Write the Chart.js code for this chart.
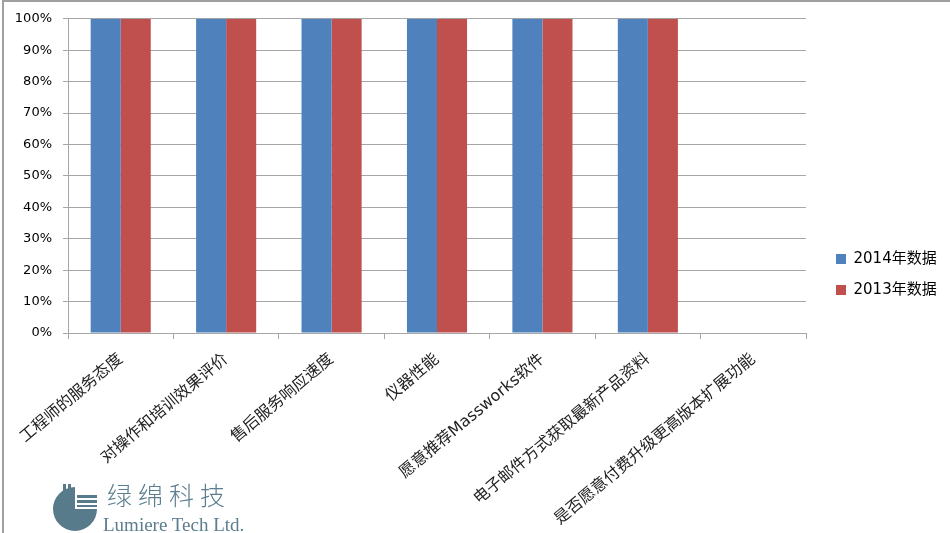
<!DOCTYPE html>
<html>
<head>
<meta charset="utf-8">
<script src="https://cdn.jsdelivr.net/npm/chart.js@4.4.1/dist/chart.umd.min.js"></script>
<style>
  html, body { margin: 0; padding: 0; background: #fff; }
  #wrap { position: relative; width: 950px; height: 533px; overflow: hidden; }
  #frame { position: absolute; left: 2px; top: 0; width: 950px; height: 533px;
           border-top: 2px solid #a0a0a0; border-left: 2px solid #a0a0a0; box-sizing: border-box; pointer-events: none; }
  #logo { position: absolute; left: 50px; top: 479px; width: 220px; height: 55px; }
  #logo svg { position: absolute; left: 0; top: 0; }
  #cn { position: absolute; left: 57px; top: 0px; font-family: "Noto Sans CJK SC"; font-weight: 300;
        font-size: 25px; letter-spacing: 6px; color: #5b7d8e; line-height: 30px; white-space: nowrap; }
  #en { position: absolute; left: 53px; top: 35px; font-family: "Liberation Serif"; font-size: 19px;
        color: #5b7d8e; line-height: 22px; white-space: nowrap; }
</style>
</head>
<body>
<div id="wrap">
  <canvas id="c" width="950" height="533"></canvas>
  <div id="frame"></div>
  <div id="logo">
    <svg width="52" height="55" viewBox="0 0 52 55">
      <path d="M25,8 L25,30 L47,30 A22,22 0 1,1 25,8 Z" fill="#587b8c"/>
      <rect x="13" y="5" width="3" height="24" fill="#587b8c"/>
      <rect x="18" y="5" width="3" height="24" fill="#587b8c"/>
      <rect x="27" y="16" width="20" height="3" fill="#587b8c"/>
      <rect x="27" y="21" width="20" height="3" fill="#587b8c"/>
      <rect x="27" y="26" width="20" height="2" fill="#587b8c"/>
    </svg>
    <div id="cn">绿绵科技</div>
    <div id="en">Lumiere Tech Ltd.</div>
  </div>
</div>
<script>
const categories = [
  "工程师的服务态度",
  "对操作和培训效果评价",
  "售后服务响应速度",
  "仪器性能",
  "愿意推荐Massworks软件",
  "电子邮件方式获取最新产品资料",
  "是否愿意付费升级更高版本扩展功能"
];
const seriesNames = ["2014年数据", "2013年数据"];
const values2014 = [100, 100, 100, 100, 100, 100, 0];
const values2013 = [100, 100, 100, 100, 100, 100, 0];
const yTickValues = [0, 10, 20, 30, 40, 50, 60, 70, 80, 90, 100];

const legendPatch = {
  id: 'legendPatch',
  beforeUpdate(chart) {
    const lg = chart.legend;
    if (lg && !lg._patched) {
      const origFit = lg.fit;
      lg.fit = function () { origFit.call(this); this.width = 144; };
      const origDraw = lg.draw;
      lg.draw = function () {
        const ctx = this.ctx;
        ctx.save(); ctx.translate(14, 0);
        origDraw.apply(this, arguments);
        ctx.restore();
      };
      lg._patched = true;
    }
  }
};

const gridGray = '#a6a6a6';
new Chart(document.getElementById('c'), {
  type: 'bar',
  data: {
    labels: categories,
    datasets: [
      { label: seriesNames[0], data: values2014, backgroundColor: '#4f81bd', borderWidth: 0,
        categoryPercentage: 0.57, barPercentage: 1.0 },
      { label: seriesNames[1], data: values2013, backgroundColor: '#c0504d', borderWidth: 0,
        categoryPercentage: 0.57, barPercentage: 1.0 }
    ]
  },
  options: {
    responsive: false,
    animation: false,
    layout: { padding: { top: 16, left: 0, right: 0, bottom: 0 } },
    plugins: {
      tooltip: { enabled: false },
      legend: {
        position: 'right',
        labels: {
          boxWidth: 10, boxHeight: 10, padding: 16,
          color: '#000',
          font: { family: '"DejaVu Sans", "Noto Sans CJK SC"', size: 15 }
        }
      }
    },
    scales: {
      x: {
        offset: true,
        grid: { display: true, drawOnChartArea: false, drawTicks: true, tickLength: 6, color: gridGray, offset: true },
        border: { color: gridGray, width: 1 },
        ticks: {
          minRotation: 40, maxRotation: 40, autoSkip: false, padding: 11,
          color: '#222',
          font: { family: '"DejaVu Sans", "Noto Sans CJK SC"', size: 16 }
        },
        afterFit(scale) { scale.height = 200; }
      },
      y: {
        min: 0, max: 100,
        afterBuildTicks(scale) { scale.ticks = yTickValues.map(v => ({ value: v })); },
        grid: { color: gridGray, tickLength: 5, drawTicks: true },
        border: { color: gridGray, width: 1 },
        ticks: {
          padding: 11, color: '#000',
          font: { family: '"DejaVu Sans"', size: 13 },
          callback: (v) => v + '%'
        },
        afterFit(scale) { scale.width = 68; }
      }
    }
  },
  plugins: [legendPatch]
});
</script>
</body>
</html>
